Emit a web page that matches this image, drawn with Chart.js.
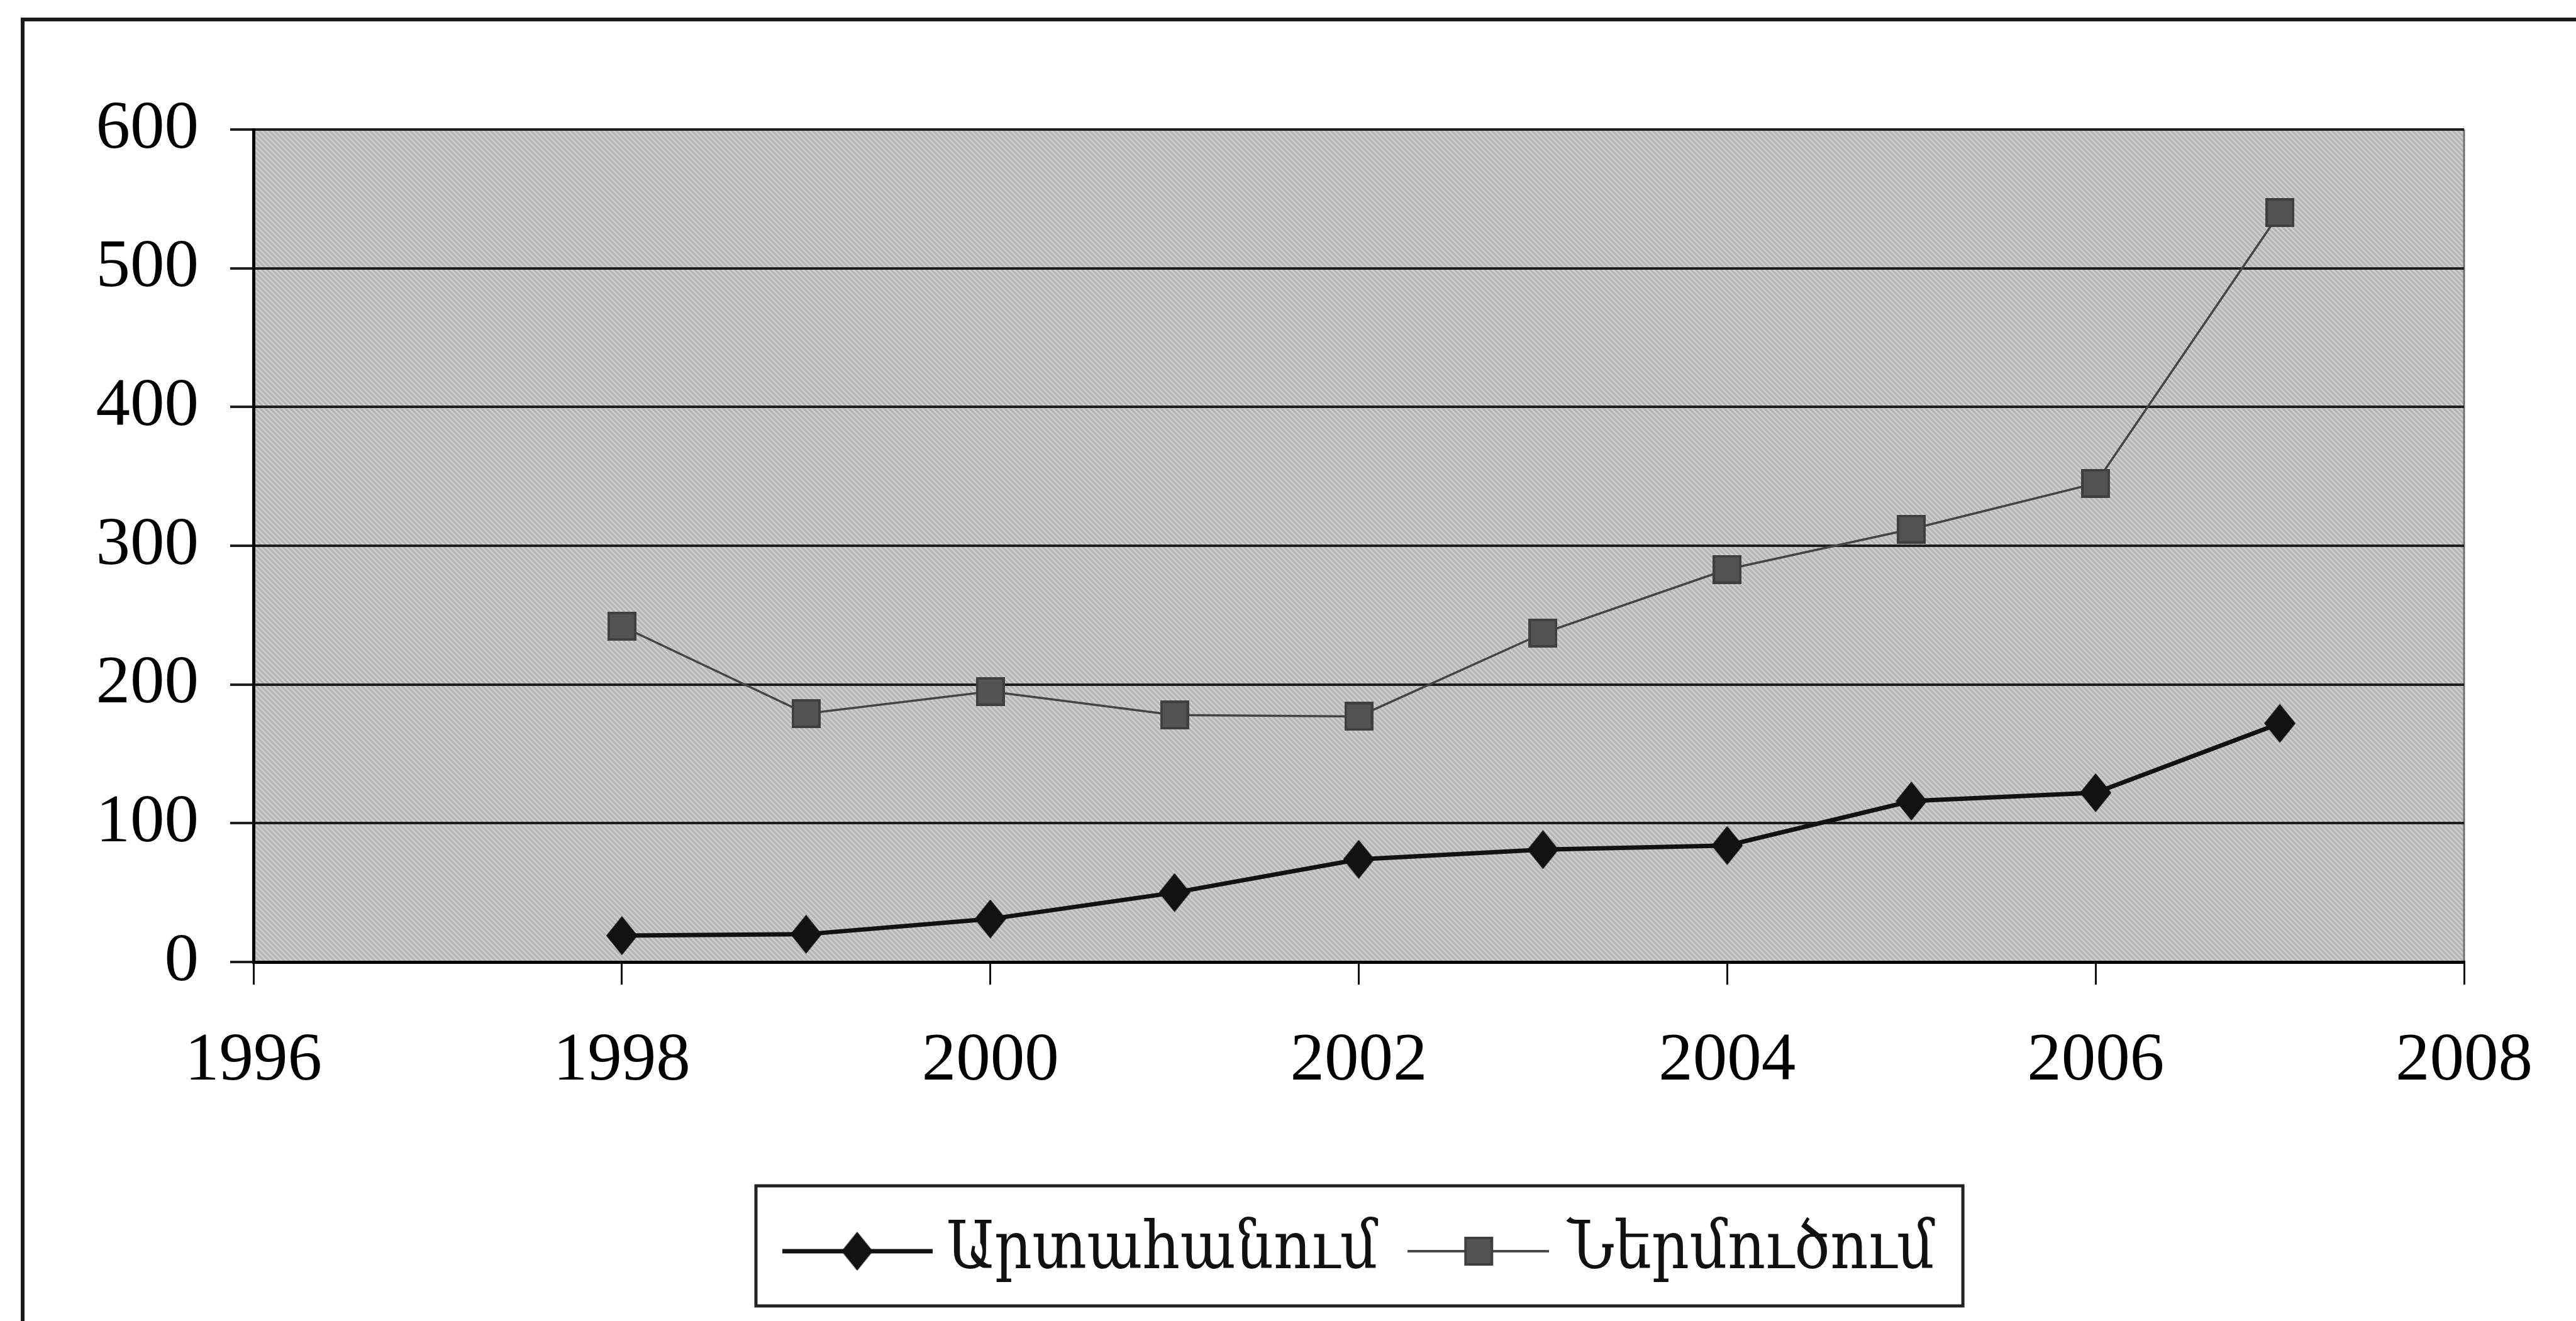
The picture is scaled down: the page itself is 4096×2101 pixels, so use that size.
<!DOCTYPE html>
<html lang="hy">
<head>
<meta charset="UTF-8">
<title>Արտահանում և ներմուծում</title>
<style>
  html, body { margin: 0; padding: 0; background: #fff; }
  #wrap { width: 4096px; height: 2101px; position: relative; }
</style>
</head>
<body>
<div id="wrap"><canvas id="chart"></canvas></div>
<script src="https://cdn.jsdelivr.net/npm/chart.js"></script>
<script>
// values
const years = [1998, 1999, 2000, 2001, 2002, 2003, 2004, 2005, 2006, 2007];
const exportValues = [19, 20, 31, 50, 74, 81, 84, 116, 122, 172];
const importValues = [242, 179, 195, 178, 177, 237, 283, 312, 345, 540];
const seriesNames = ['Արտահանում', 'Ներմուծում'];
const xTicks = [1996, 1998, 2000, 2002, 2004, 2006, 2008];
const yTicks = [0, 100, 200, 300, 400, 500, 600];

const tickFont = { family: '"Liberation Serif", "Times New Roman", serif', size: 109 };
// condensed serif for the Armenian legend text
const legendFont = { family: '"DejaVu Serif Condensed", "DejaVu Serif", serif', size: 104, weight: 'normal condensed' };

function makeDiamond(w, h, color) {
    const c = document.createElement('canvas');
    c.width = w; c.height = h;
    const g = c.getContext('2d');
    g.fillStyle = color;
    g.beginPath();
    g.moveTo(w / 2, 0); g.lineTo(w, h / 2); g.lineTo(w / 2, h); g.lineTo(0, h / 2);
    g.closePath();
    g.fill();
    return c;
}

function makeSquare(s, fill, stroke) {
    const c = document.createElement('canvas');
    c.width = s; c.height = s;
    const g = c.getContext('2d');
    g.fillStyle = fill;
    g.fillRect(0, 0, s, s);
    g.strokeStyle = stroke; g.lineWidth = 4;
    g.strokeRect(2, 2, s - 4, s - 4);
    return c;
}

function makeLegendSymbol(w, h, lineColor, lineWidth, marker) {
    const c = document.createElement('canvas');
    c.width = w; c.height = h;
    const g = c.getContext('2d');
    g.strokeStyle = lineColor; g.lineWidth = lineWidth;
    g.beginPath(); g.moveTo(0, h / 2); g.lineTo(w, h / 2); g.stroke();
    g.drawImage(marker, (w - marker.width) / 2, (h - marker.height) / 2);
    return c;
}

const diamond = makeDiamond(50, 62, '#121212');
const square = makeSquare(46, '#535353', '#3f3f3f');
const legendSymbols = [
    makeLegendSymbol(239, 70, '#121212', 7, diamond),
    makeLegendSymbol(225, 70, '#4a4a4a', 4, square)
];

function stripes(ctx) {
    const t = document.createElement('canvas');
    t.width = 8; t.height = 8;
    const g = t.getContext('2d');
    g.fillStyle = '#b4b4b7';
    g.fillRect(0, 0, 8, 8);
    g.strokeStyle = '#d0d0d3';
    g.lineWidth = 2.5;
    g.beginPath();
    g.moveTo(-4, -4); g.lineTo(12, 12);
    g.moveTo(-4, 4); g.lineTo(4, 12);
    g.moveTo(4, -4); g.lineTo(12, 4);
    g.stroke();
    return ctx.createPattern(t, 'repeat');
}

const LEGEND_X = 1273;

const pageDecor = {
    id: 'pageDecor',
    afterUpdate(chart) {
        // place the legend row where the reference has it
        const lg = chart.legend;
        const w = lg.width;
        lg.left = LEGEND_X - lg.options.labels.padding;
        lg.right = lg.left + w;
    },
    beforeDraw(chart) {
        const { ctx, chartArea: a } = chart;
        ctx.save();
        ctx.strokeStyle = '#1a1a1a';
        ctx.lineWidth = 6;
        ctx.strokeRect(36, 31, chart.width + 200, chart.height + 200);
        ctx.fillStyle = stripes(ctx);
        ctx.fillRect(a.left, a.top, a.right - a.left, a.bottom - a.top);
        ctx.strokeStyle = '#707070';
        ctx.lineWidth = 3;
        ctx.beginPath();
        ctx.moveTo(a.right, a.top);
        ctx.lineTo(a.right, a.bottom);
        ctx.stroke();
        ctx.restore();
    },
    afterDraw(chart) {
        const { ctx } = chart;
        const lg = chart.legend;
        const p = lg.options.labels.padding;
        const x0 = lg.left + p - 71;
        const y0 = lg.top + p - 52;
        const x1 = lg.left + lg.lineWidths[0] + 45;
        ctx.save();
        ctx.strokeStyle = '#222';
        ctx.lineWidth = 5;
        ctx.strokeRect(x0, y0, x1 - x0, 191);
        ctx.restore();
    }
};

new Chart(document.getElementById('chart'), {
    type: 'line',
    data: {
        datasets: [
            {
                label: seriesNames[0],
                data: years.map((yr, i) => ({ x: yr, y: exportValues[i] })),
                borderColor: '#121212',
                borderWidth: 7,
                pointStyle: diamond,
                pointRadius: 25,
                tension: 0
            },
            {
                label: seriesNames[1],
                data: years.map((yr, i) => ({ x: yr, y: importValues[i] })),
                borderColor: '#454545',
                borderWidth: 3.5,
                pointStyle: square,
                pointRadius: 23,
                tension: 0
            }
        ]
    },
    options: {
        responsive: true,
        maintainAspectRatio: false,
        devicePixelRatio: 1,
        animation: false,
        layout: { padding: { top: 206, right: 178, bottom: 49, left: 0 } },
        scales: {
            x: {
                type: 'linear',
                min: xTicks[0],
                max: xTicks[xTicks.length - 1],
                afterBuildTicks: s => { s.ticks = xTicks.map(v => ({ value: v })); },
                afterFit: s => { s.height = 338; },
                grid: { drawOnChartArea: false, drawTicks: true, tickLength: 36, tickColor: '#111', lineWidth: 3 },
                border: { color: '#000', width: 5 },
                ticks: { padding: 57, color: '#000', font: tickFont, maxRotation: 0, callback: v => String(v) }
            },
            y: {
                min: yTicks[0],
                max: yTicks[yTicks.length - 1],
                afterBuildTicks: s => { s.ticks = yTicks.map(v => ({ value: v })); },
                afterFit: s => { s.width = 403; },
                grid: { color: '#1e1e1e', lineWidth: 4, tickLength: 37, drawTicks: true },
                border: { color: '#000', width: 5 },
                ticks: { padding: 50, color: '#000', font: tickFont, callback: v => String(v) }
            }
        },
        plugins: {
            tooltip: { enabled: false },
            legend: {
                position: 'bottom',
                align: 'start',
                labels: {
                    usePointStyle: true,
                    pointStyleWidth: 180,
                    padding: 70,
                    color: '#111',
                    font: legendFont,
                    generateLabels: chart => chart.data.datasets.map((ds, i) => ({
                        text: ds.label,
                        pointStyle: legendSymbols[i],
                        datasetIndex: i,
                        hidden: false,
                        lineWidth: 0,
                        fillStyle: 'rgba(0,0,0,0)',
                        strokeStyle: 'rgba(0,0,0,0)',
                        fontColor: '#111'
                    }))
                }
            }
        }
    },
    plugins: [pageDecor]
});
</script>
</body>
</html>
